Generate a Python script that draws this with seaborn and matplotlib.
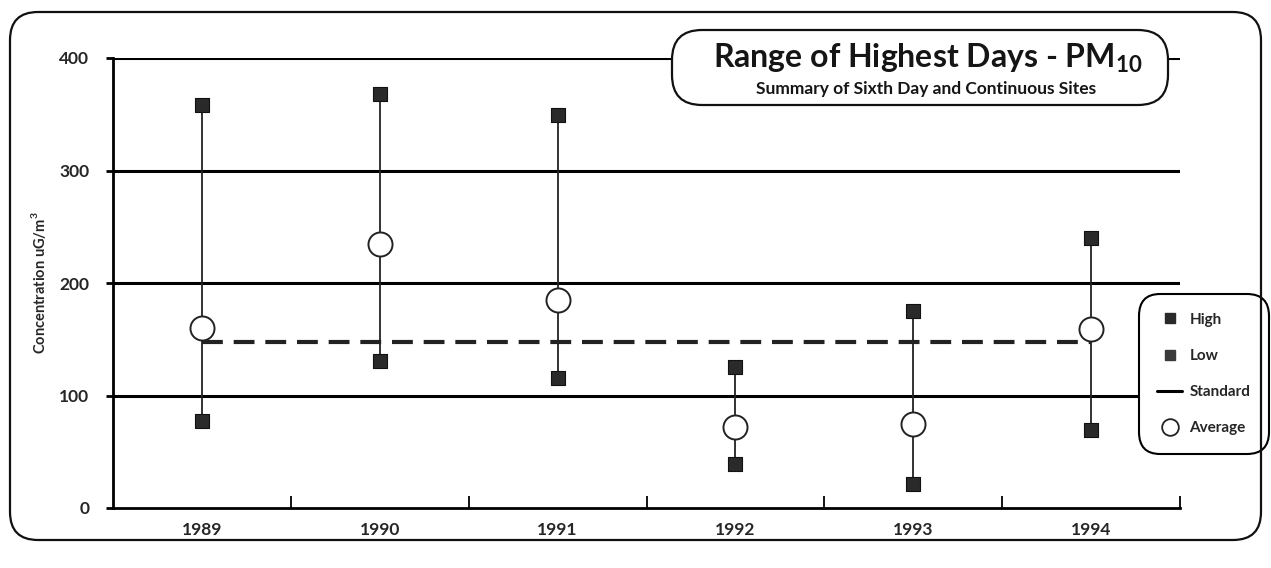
"""
Range of Highest Days - PM10, redrawn from a scanned chart
"""

import pandas as pd
import numpy as np
import matplotlib.pyplot as plt
import seaborn as sns
from matplotlib.patches import FancyBboxPatch
from matplotlib.lines import Line2D

# Data
years = ['1989', '1990', '1991', '1992', '1993', '1994']
high = [358, 368, 349, 125, 175, 240]
low = [77, 131, 116, 39, 21, 69]
average = [160, 235, 185, 72, 75, 159]
overall_avg = 148
standard_levels = [100, 200, 300, 400]

sns.set_theme(style='white')
plt.rcParams['font.family'] = ['Lato', 'DejaVu Sans']
plt.rcParams['mathtext.fontset'] = 'custom'
plt.rcParams['mathtext.rm'] = 'Lato:bold'

df = pd.DataFrame({'year': years, 'x': np.arange(len(years)),
                   'High': high, 'Low': low, 'Average': average})
points = df.melt(id_vars=['year', 'x'], value_vars=['High', 'Low'],
                 var_name='kind', value_name='value')

W, H = 1271, 568
fig = plt.figure(figsize=(W / 100, H / 100), dpi=100)
ax = fig.add_axes([113 / W, 1 - 508 / H, (1180 - 113) / W, (508 - 58) / H])
ax.set_facecolor('none')

# standard lines
for lvl in standard_levels:
    ax.axhline(lvl, color='black', lw=2.2, zorder=1)

# overall average, dashed
avg_line = pd.DataFrame({'x': df['x'], 'y': [overall_avg] * len(df)})
sns.lineplot(data=avg_line, x='x', y='y', ax=ax, color='#222222', lw=3,
             dashes=(5, 2.6), zorder=2)

# low-high ranges
ax.vlines(df['x'], df['Low'], df['High'], color='#222222', lw=1.3, zorder=3)

sns.scatterplot(data=points, x='x', y='value', ax=ax, marker='s', s=95,
                color='#2a2a2a', edgecolor='#111111', linewidth=0.8,
                legend=False, zorder=4)
sns.scatterplot(data=df, x='x', y='Average', ax=ax, marker='o', s=300,
                facecolor='white', edgecolor='#222222', linewidth=1.4,
                legend=False, zorder=5)

ax.set_xlim(-0.5, 5.5)
ax.set_ylim(0, 400)
ax.set_xticks(df['x'])
ax.set_xticklabels(years, fontsize=12.5, fontweight='bold')
ax.set_xticks(np.arange(0.5, 6, 1), minor=True)
ax.tick_params(axis='x', which='major', bottom=False, length=0, pad=10)
ax.tick_params(axis='x', which='minor', bottom=True, direction='in',
               length=9, width=1.3, color='black', top=False)
ax.set_yticks([0, 100, 200, 300, 400])
ax.set_yticklabels(['0', '100', '200', '300', '400'], fontsize=12.5,
                   fontweight='bold')
ax.tick_params(axis='y', which='major', direction='out', length=5, width=2,
               color='black', left=True, pad=12)
ax.set_xlabel('')
ax.set_ylabel('Concentration uG/m$^{3}$', fontsize=10.5, fontweight='bold',
              labelpad=8)
sns.despine(ax=ax, top=True, right=True)
for side in ['left', 'bottom']:
    ax.spines[side].set_color('black')
    ax.spines[side].set_linewidth(2)

# legend
handles = [
    Line2D([], [], ls='none', marker='s', ms=7, color='#2a2a2a'),
    Line2D([], [], ls='none', marker='s', ms=7, color='#3a3a3a'),
    Line2D([], [], color='black', lw=2.2),
    Line2D([], [], ls='none', marker='o', ms=12, mfc='white', mec='#222222',
           mew=1.3),
]
leg = ax.legend(handles, ['High', 'Low', 'Standard', 'Average'],
                loc='center left', bbox_to_anchor=(1142 / W, 1 - 374 / H),
                bbox_transform=fig.transFigure, frameon=True, fancybox=True,
                edgecolor='black', framealpha=1, fontsize=11, handlelength=1.6,
                handletextpad=0.5, labelspacing=1.45, borderpad=1.0,
                borderaxespad=0, prop={'weight': 'bold', 'size': 11})
leg.get_frame().set_linewidth(1.5)
leg.get_frame().set_boxstyle('round,pad=0.2,rounding_size=1.4')
leg.set_zorder(10)

# overlay for frames and title box, in pixel units
bg = fig.add_axes([0, 0, 1, 1], zorder=20)
bg.set_xlim(0, W)
bg.set_ylim(H, 0)
bg.axis('off')
bg.patch.set_alpha(0)
bg.add_patch(FancyBboxPatch((10, 12), W - 20, 528,
                            boxstyle='round,pad=0,rounding_size=28',
                            fc='none', ec='#111111', lw=1.6))
bg.add_patch(FancyBboxPatch((672, 30), 496, 75,
                            boxstyle='round,pad=0,rounding_size=30',
                            fc='white', ec='#111111', lw=1.6))
bg.text(928, 58, 'Range of Highest Days - PM$_{10}$', ha='center',
        va='center', fontsize=23, fontweight='bold', color='#151515')
bg.text(926, 89, 'Summary of Sixth Day and Continuous Sites', ha='center',
        va='center', fontsize=12.5, fontweight='bold', color='#151515')

plt.savefig('out.png', dpi=100)
